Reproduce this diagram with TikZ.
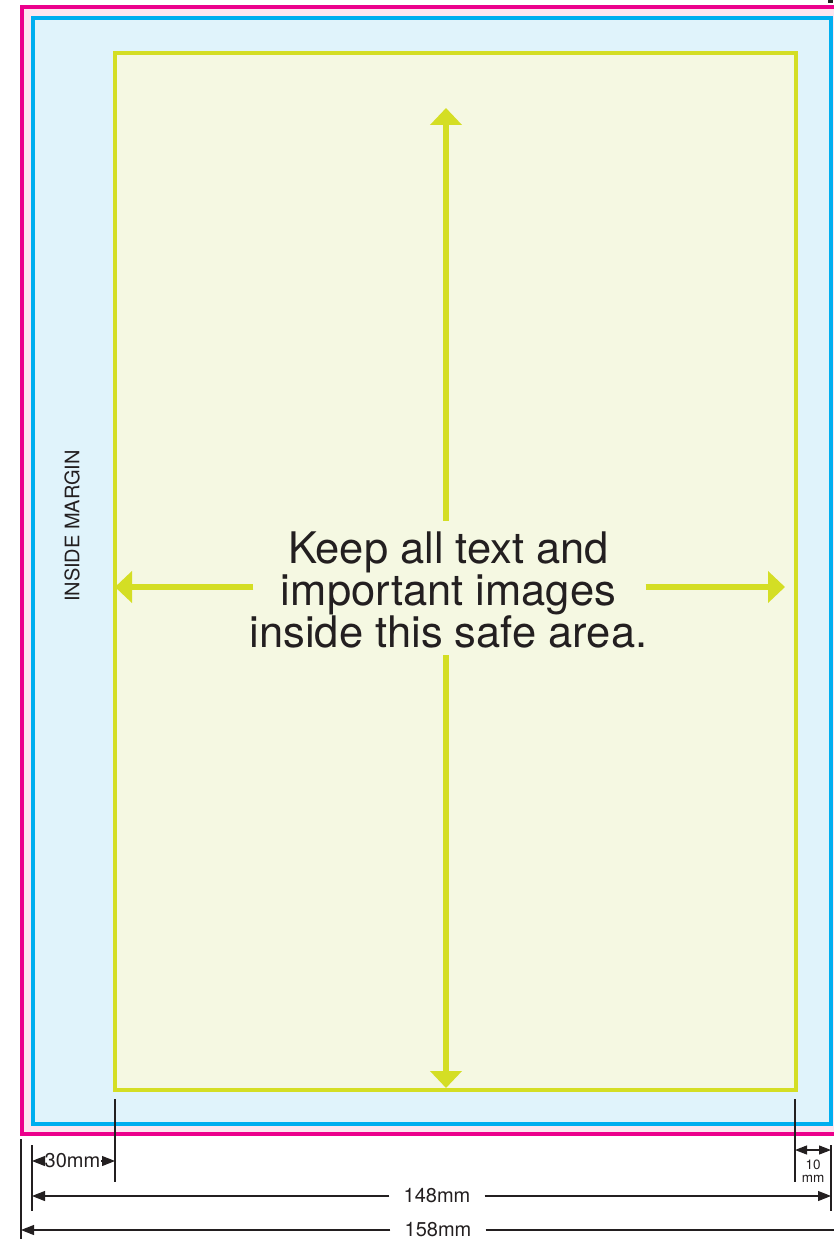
\documentclass[tikz,border=0pt]{standalone}
\usepackage{fontspec}
\setmainfont{TeX Gyre Heros}
\usetikzlibrary{arrows.meta}
\definecolor{bleedline}{HTML}{EC008C}
\definecolor{bleedfill}{HTML}{FDE6F0}
\definecolor{trimline}{HTML}{00AEEF}
\definecolor{trimfill}{HTML}{E0F3FB}
\definecolor{safeline}{HTML}{D4DE24}
\definecolor{safefill}{HTML}{F5F8E2}
\definecolor{dimgray}{HTML}{231F20}

\begin{document}
\begin{tikzpicture}[x=1pt,y=-1pt,
    frame/.style={line width=4pt},
    safearrow/.style={draw=safeline, line width=5.5pt, -{Triangle[length=17pt,width=31pt]}},
    dimline/.style={draw=dimgray, line width=1.1pt},
    dimarrow/.style={dimline, -{Triangle[length=13pt,width=10pt]}},
    dimtext/.style={text=dimgray, font=\fontsize{20}{20}\selectfont}]
  \useasboundingbox (0,0) rectangle (833,1241);

  % bleed, trim and safe area
  \draw[frame, draw=bleedline, fill=bleedfill] (22,7.5) rectangle (838,1134);
  \draw[frame, draw=trimline, fill=trimfill] (33,18.5) rectangle (831,1124);
  \draw[frame, draw=safeline, fill=safefill] (115,53) rectangle (796,1090);
  \fill[dimgray] (828,0) rectangle (833,3);

  \node[rotate=90, text=dimgray, font=\fontsize{20}{20}\selectfont] (margin) at (72,526) {INSIDE MARGIN};

  \node[text=dimgray, align=center, inner xsep=0pt, inner ysep=11pt,
        font=\fontsize{43.5}{42}\selectfont] (msg) at (448.5,590)
        {Keep all text and\\important images\\inside this safe area.};

  \coordinate (uptip) at (446,108);
  \coordinate (downtip) at (446,1088);
  \coordinate (lefttip) at (115,587);
  \coordinate (righttip) at (785,587);
  \draw[safearrow] (msg.north -| uptip) -- (uptip);
  \draw[safearrow] (msg.south -| downtip) ++(0,-4) -- (downtip);
  \draw[safearrow] (msg.west |- lefttip) ++(4,0) -- (lefttip);
  \draw[safearrow] (msg.east |- righttip) ++(-2,0) -- (righttip);

  % dimension ticks
  \coordinate (safeL) at (115,1099);
  \coordinate (safeR) at (795,1099);
  \coordinate (trimL) at (32,1145);
  \coordinate (trimR) at (831,1145);
  \coordinate (bleedL) at (21,1139);
  \draw[dimline] (safeL) -- ++(0,83);
  \draw[dimline] (safeR) -- ++(0,83);
  \draw[dimline] (trimL) -- ++(0,66);
  \draw[dimline] (trimR) -- ++(0,66);
  \draw[dimline] (bleedL) -- ++(0,100);

  % dimensions
  \node[dimtext, inner sep=0.5pt] (mm30) at (72.5,1161) {30mm};
  \draw[dimarrow] (mm30.west) -- (mm30.west -| trimL);
  \draw[dimarrow] (mm30.east) -- (mm30.east -| safeL);

  \coordinate (tenL) at (safeR |- 0,1150);
  \coordinate (tenR) at (trimR |- 0,1150);
  \draw[dimline, {Triangle[length=12pt,width=9pt]}-{Triangle[length=12pt,width=9pt]}] (tenL) -- (tenR);
  \node[dimtext, font=\fontsize{13.5}{13}\selectfont, align=center, inner sep=0pt] (mm10) at (813,1171) {10\\mm};

  \node[dimtext, inner xsep=14pt] (mm148) at (437,1196) {148mm};
  \draw[dimarrow] (mm148.west) -- (mm148.west -| trimL);
  \draw[dimarrow] (mm148.east) -- (mm148.east -| trimR);

  \node[dimtext, inner xsep=14pt] (mm158) at (438,1230) {158mm};
  \draw[dimarrow] (mm158.west) -- (mm158.west -| bleedL);
  \draw[dimarrow] (mm158.east) -- ++(388,0);
\end{tikzpicture}
\end{document}
